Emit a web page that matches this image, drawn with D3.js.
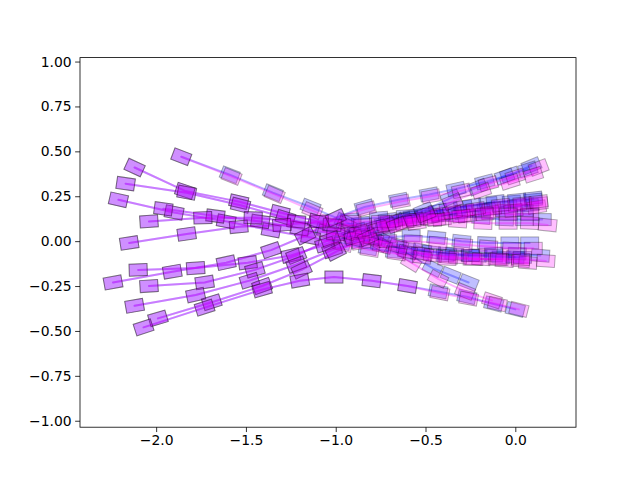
<!DOCTYPE html>
<html>
<head>
<meta charset="utf-8">
<script src="https://cdn.jsdelivr.net/npm/d3@7"></script>
<style>
  html, body { margin: 0; padding: 0; background: #ffffff; }
  svg { display: block; }
  .tick text { font-family: "DejaVu Sans", sans-serif; font-size: 13.9px; fill: #000; }
</style>
</head>
<body>
<svg id="chart" width="640" height="480"></svg>
<script>
// ---------------- data ----------------
const xTicks = [-2.0, -1.5, -1.0, -0.5, 0.0];
const yTicks = [-1.00, -0.75, -0.50, -0.25, 0.00, 0.25, 0.50, 0.75, 1.00];
const xDomain = [-2.424, 0.338];
const yDomain = [-1.036, 1.022];

const blueLines = [
  [[-1.86,0.47],[-1.59,0.37],[-1.35,0.27],[-1.14,0.19],[-0.95,0.11],[-0.76,0.02],[-0.60,-0.07],[-0.46,-0.15],[-0.36,-0.19],[-0.26,-0.23]],
  [[-2.12,0.41],[-1.84,0.28],[-1.54,0.22],[-1.31,0.16],[-1.10,0.11],[-0.95,0.06],[-0.80,0.02],[-0.66,-0.02],[-0.52,-0.05],[-0.38,-0.07],[-0.25,-0.08],[-0.12,-0.08],[0.00,-0.09]],
  [[-2.17,0.32],[-1.83,0.27],[-1.53,0.20],[-1.28,0.13],[-1.06,0.06],[-0.90,0.02],[-0.75,-0.02],[-0.61,-0.04],[-0.47,-0.06],[-0.34,-0.07],[-0.21,-0.08],[-0.08,-0.09],[0.04,-0.09]],
  [[-2.21,0.23],[-1.90,0.16],[-1.61,0.11],[-1.36,0.06],[-1.14,0.02],[-0.97,-0.01],[-0.82,-0.04],[-0.67,-0.06],[-0.53,-0.07],[-0.39,-0.08],[-0.25,-0.08],[-0.12,-0.07],[0.01,-0.07],[0.14,-0.08]],
  [[-1.96,0.18],[-1.67,0.14],[-1.42,0.11],[-1.20,0.07],[-1.00,0.04],[-0.85,0.06],[-0.70,0.09],[-0.56,0.12],[-0.42,0.14],[-0.29,0.16],[-0.16,0.18],[-0.04,0.19],[0.08,0.20]],
  [[-2.04,0.11],[-1.74,0.13],[-1.46,0.13],[-1.22,0.11],[-1.02,0.09],[-0.86,0.10],[-0.71,0.12],[-0.57,0.14],[-0.43,0.17],[-0.29,0.19],[-0.15,0.21],[-0.02,0.22],[0.10,0.23]],
  [[-2.15,-0.01],[-1.83,0.04],[-1.54,0.08],[-1.30,0.09],[-1.09,0.11],[-0.92,0.12],[-0.76,0.13],[-0.61,0.14],[-0.47,0.15],[-0.33,0.14],[-0.19,0.13],[-0.06,0.12],[0.05,0.12],[0.15,0.12]],
  [[-2.10,-0.16],[-1.78,-0.15],[-1.49,-0.12],[-1.25,-0.08],[-1.06,-0.02],[-0.91,0.03],[-0.77,0.08],[-0.63,0.12],[-0.50,0.15],[-0.37,0.18],[-0.24,0.20],[-0.11,0.22],[0.01,0.23],[0.10,0.24]],
  [[-2.24,-0.23],[-1.91,-0.17],[-1.61,-0.12],[-1.36,-0.05],[-1.17,0.03],[-1.00,0.13],[-0.84,0.19],[-0.65,0.23],[-0.48,0.26],[-0.33,0.29],[-0.17,0.33],[-0.03,0.37],[0.09,0.42]],
  [[-2.04,-0.25],[-1.73,-0.23],[-1.45,-0.16],[-1.22,-0.08],[-1.03,0.01],[-0.88,0.06],[-0.73,0.10],[-0.59,0.13],[-0.45,0.14],[-0.32,0.16],[-0.19,0.17],[-0.06,0.17],[0.05,0.17]],
  [[-2.12,-0.36],[-1.78,-0.30],[-1.48,-0.22],[-1.22,-0.13],[-1.02,-0.05],[-0.87,0.00],[-0.72,0.02],[-0.58,0.03],[-0.44,0.02],[-0.30,0.00],[-0.16,-0.01],[-0.03,-0.01],[0.08,-0.01]],
  [[-1.99,-0.43],[-1.69,-0.34],[-1.41,-0.25],[-1.19,-0.16],[-1.00,-0.06],[-0.83,0.03],[-0.67,0.11],[-0.51,0.17],[-0.36,0.24],[-0.21,0.30],[-0.06,0.36],[0.07,0.40]],
  [[-2.07,-0.48],[-1.73,-0.37],[-1.41,-0.27],[-1.20,-0.22],[-1.01,-0.20],[-0.80,-0.22],[-0.60,-0.25],[-0.43,-0.28],[-0.27,-0.31],[-0.12,-0.35],[0.00,-0.38]]
];

const magentaLines = [
  [[-1.86,0.47],[-1.58,0.36],[-1.34,0.26],[-1.13,0.17],[-0.94,0.09],[-0.76,-0.01],[-0.58,-0.12],[-0.43,-0.21],[-0.28,-0.28],[-0.13,-0.33]],
  [[-2.12,0.41],[-1.84,0.28],[-1.54,0.22],[-1.31,0.16],[-1.10,0.11],[-0.94,0.05],[-0.79,0.01],[-0.65,-0.03],[-0.51,-0.07],[-0.37,-0.09],[-0.23,-0.10],[-0.09,-0.10],[0.03,-0.11]],
  [[-2.17,0.32],[-1.83,0.27],[-1.53,0.20],[-1.28,0.13],[-1.05,0.05],[-0.89,0.01],[-0.74,-0.03],[-0.60,-0.06],[-0.46,-0.08],[-0.32,-0.09],[-0.19,-0.10],[-0.06,-0.11],[0.07,-0.12]],
  [[-2.21,0.23],[-1.90,0.16],[-1.61,0.11],[-1.36,0.06],[-1.14,0.02],[-0.96,-0.02],[-0.81,-0.05],[-0.66,-0.07],[-0.52,-0.09],[-0.38,-0.10],[-0.24,-0.10],[-0.10,-0.10],[0.03,-0.10],[0.17,-0.11]],
  [[-1.96,0.18],[-1.67,0.14],[-1.42,0.11],[-1.20,0.07],[-1.00,0.04],[-0.84,0.05],[-0.69,0.08],[-0.55,0.10],[-0.41,0.12],[-0.27,0.14],[-0.14,0.16],[-0.01,0.17],[0.12,0.19]],
  [[-2.04,0.11],[-1.74,0.13],[-1.46,0.13],[-1.22,0.11],[-1.02,0.09],[-0.85,0.09],[-0.70,0.11],[-0.56,0.12],[-0.42,0.15],[-0.28,0.17],[-0.13,0.18],[0.01,0.20],[0.13,0.21]],
  [[-2.15,-0.01],[-1.83,0.04],[-1.54,0.08],[-1.30,0.09],[-1.09,0.11],[-0.91,0.11],[-0.75,0.11],[-0.60,0.12],[-0.46,0.12],[-0.32,0.11],[-0.18,0.10],[-0.04,0.10],[0.08,0.10],[0.18,0.09]],
  [[-2.10,-0.16],[-1.78,-0.15],[-1.49,-0.12],[-1.25,-0.08],[-1.06,-0.02],[-0.90,0.02],[-0.76,0.07],[-0.62,0.10],[-0.48,0.13],[-0.35,0.16],[-0.22,0.18],[-0.08,0.20],[0.04,0.21],[0.13,0.22]],
  [[-2.24,-0.23],[-1.91,-0.17],[-1.61,-0.12],[-1.36,-0.05],[-1.17,0.03],[-1.00,0.13],[-0.83,0.18],[-0.64,0.22],[-0.47,0.25],[-0.30,0.28],[-0.15,0.32],[0.00,0.36],[0.13,0.41]],
  [[-2.04,-0.25],[-1.73,-0.23],[-1.45,-0.16],[-1.22,-0.08],[-1.03,0.01],[-0.87,0.05],[-0.72,0.09],[-0.58,0.11],[-0.44,0.12],[-0.30,0.14],[-0.17,0.15],[-0.04,0.15],[0.08,0.15]],
  [[-2.12,-0.36],[-1.78,-0.30],[-1.48,-0.22],[-1.22,-0.13],[-1.02,-0.05],[-0.86,-0.01],[-0.71,0.00],[-0.57,0.00],[-0.43,-0.01],[-0.29,-0.02],[-0.15,-0.03],[-0.02,-0.04],[0.10,-0.04]],
  [[-1.99,-0.43],[-1.69,-0.34],[-1.41,-0.25],[-1.19,-0.16],[-1.00,-0.06],[-0.82,0.02],[-0.66,0.09],[-0.50,0.15],[-0.35,0.22],[-0.19,0.28],[-0.03,0.33],[0.10,0.37]],
  [[-2.07,-0.48],[-1.73,-0.37],[-1.41,-0.27],[-1.20,-0.22],[-1.01,-0.20],[-0.80,-0.22],[-0.60,-0.25],[-0.42,-0.29],[-0.26,-0.32],[-0.10,-0.35],[0.02,-0.38]]
];

// ---------------- layout ----------------
const W = 640, H = 480;
const padL = 80, padR = 576, padT = 57.6, padB = 427.2;

const svg = d3.select("#chart");
svg.append("rect").attr("width", W).attr("height", H).attr("fill", "#fff");

const x = d3.scaleLinear().domain(xDomain).range([padL, padR]);
const y = d3.scaleLinear().domain(yDomain).range([padB, padT]);

const clipId = "plotclip";
svg.append("clipPath").attr("id", clipId)
  .append("rect").attr("x", padL).attr("y", padT)
  .attr("width", padR - padL).attr("height", padB - padT);

const plot = svg.append("g").attr("clip-path", `url(#${clipId})`);
const line = d3.line().x(d => x(d[0])).y(d => y(d[1]));

const boxW = 18, boxH = 12;

function angleAt(pts, i) {
  const px = pts.map(p => [x(p[0]), y(p[1])]);
  let dx = 0, dy = 0;
  if (i > 0) { dx += px[i][0] - px[i-1][0]; dy += px[i][1] - px[i-1][1]; }
  if (i < px.length - 1) { dx += px[i+1][0] - px[i][0]; dy += px[i+1][1] - px[i][1]; }
  return Math.atan2(dy, dx) * 180 / Math.PI;
}

function drawSeries(lines, rgb) {
  const g = plot.append("g");
  lines.forEach(pts => {
    g.append("path").attr("d", line(pts))
      .attr("fill", "none")
      .attr("stroke", `rgba(${rgb},0.3)`)
      .attr("stroke-width", 2)
      .attr("stroke-linejoin", "round")
      .attr("stroke-linecap", "round");
  });
  lines.forEach(pts => {
    g.selectAll(null).data(pts).enter().append("rect")
      .attr("x", -boxW / 2).attr("y", -boxH / 2)
      .attr("width", boxW).attr("height", boxH)
      .attr("transform", (d, i) => `translate(${x(d[0])},${y(d[1])}) rotate(${angleAt(pts, i)})`)
      .attr("fill", `rgba(${rgb},0.25)`)
      .attr("stroke", "rgba(0,0,0,0.3)")
      .attr("stroke-width", 1);
  });
}

drawSeries(blueLines, "0,0,255");
drawSeries(magentaLines, "255,0,255");

// ---------------- axes ----------------
const tickLen = 4.86;
const xAxis = d3.axisBottom(x).tickValues(xTicks).tickFormat(d3.format(".1f"))
  .tickSize(tickLen).tickPadding(3.5);
const yAxis = d3.axisLeft(y).tickValues(yTicks).tickFormat(d3.format(".2f"))
  .tickSize(tickLen).tickPadding(3.5);

const gx = svg.append("g").attr("transform", `translate(0,${padB})`).call(xAxis);
const gy = svg.append("g").attr("transform", `translate(${padL},0)`).call(yAxis);
[gx, gy].forEach(g => {
  g.select(".domain").remove();
  g.selectAll(".tick line").attr("stroke", "#000").attr("stroke-width", 0.8);
});

svg.append("rect")
  .attr("x", padL).attr("y", padT)
  .attr("width", padR - padL).attr("height", padB - padT)
  .attr("fill", "none").attr("stroke", "#000").attr("stroke-width", 0.8);
</script>
</body>
</html>
